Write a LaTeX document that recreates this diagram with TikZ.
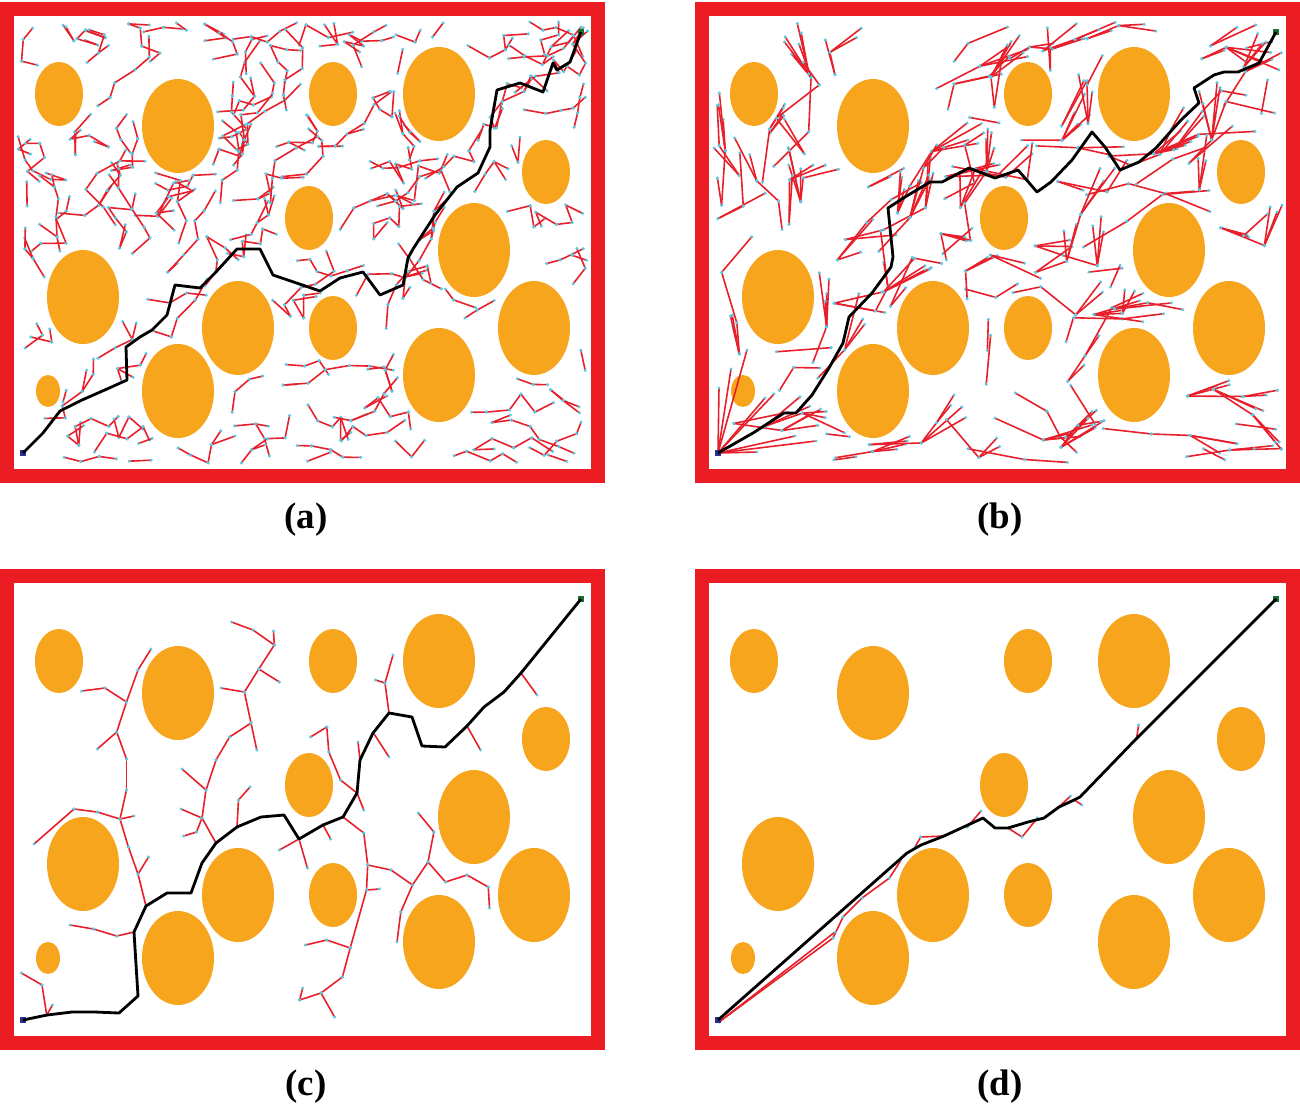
\documentclass[tikz,border=0pt]{standalone}
\usepackage{fontspec}
\setmainfont{Liberation Serif}

\definecolor{framered}{RGB}{236,28,36}
\definecolor{obstorange}{RGB}{247,165,28}
\definecolor{twigred}{RGB}{232,30,42}
\definecolor{knotcyan}{RGB}{95,200,225}
\definecolor{startblue}{RGB}{45,45,150}
\definecolor{goalgreen}{RGB}{25,110,45}

% obstacles: centre x / centre y / x radius / y radius (pixels, panel local)
\newcommand\obstacles{59/94/24/32, 178/126/36/47, 333/94/24/32, 439/94/36/47,
  546/172/24/32, 309/218/24/32, 474/250/36/47, 83/297/36/47, 238/328/36/47,
  333/328/24/32, 534/328/36/47, 178/391/36/47, 439/375/36/47, 48/391/12/16}

\newcommand\drawobstacles{%
  \foreach \ox/\oy/\rx/\ry in \obstacles {\fill[obst] (\ox,\oy) ellipse[x radius=\rx, y radius=\ry];}}

% \freeflag=1 when the point is inside the panel and off the obstacles
\newcommand\checkfree[2]{%
  \gdef\freeflag{1}%
  \pgfmathtruncatemacro\outside{(#1<18)||(#1>588)||(#2<22)||(#2>463)}%
  \ifnum\outside=1 \gdef\freeflag{0}\else
  \foreach \ox/\oy/\rx/\ry in \obstacles {%
    \pgfmathtruncatemacro\hit{((#1-\ox)/(\rx+5))^2+((#2-\oy)/(\ry+5))^2<1}%
    \ifnum\hit=1 \gdef\freeflag{0}\fi
  }\fi
}
\newcommand\checkseg[4]{%
  \checkfree{#3}{#4}%
  \ifnum\freeflag=1
    \pgfmathsetmacro\qx{(2*#1+#3)/3}\pgfmathsetmacro\qy{(2*#2+#4)/3}%
    \checkfree{\qx}{\qy}%
  \fi
  \ifnum\freeflag=1
    \pgfmathsetmacro\qx{(#1+2*#3)/3}\pgfmathsetmacro\qy{(#2+2*#4)/3}%
    \checkfree{\qx}{\qy}%
  \fi
}

% tree growth from a jittered grid, branches pointing away from the start
% #1 cols, #2 rows, #3 cell, #4 steps, #5 min length, #6 length range,
% #7 chain spread, #8 extra spokes, #9 spoke spread
\newcommand\gridtrees[9]{%
  \foreach \gx in {1,...,#1}{\foreach \gy in {1,...,#2}{%
    \pgfmathsetmacro\sx{14+(\gx-rnd)*#3}%
    \pgfmathsetmacro\sy{18+(\gy-rnd)*#3}%
    \checkfree{\sx}{\sy}%
    \ifnum\freeflag=1
      \xdef\curx{\sx}\xdef\cury{\sy}%
      \foreach \s in {1,...,#4}{%
        \pgfmathsetmacro\baseang{atan2(\cury-453,\curx-23)+(rnd-0.5)*#7}%
        \pgfmathtruncatemacro\spokes{1+#8*rnd*rnd}%
        \xdef\lastx{\curx}\xdef\lasty{\cury}%
        \foreach \k in {1,...,\spokes}{%
          \pgfmathsetmacro\ang{\baseang+(rnd-0.5)*#9}%
          \pgfmathsetmacro\len{#5+rnd*#6}%
          \pgfmathsetmacro\nx{\curx+\len*cos(\ang)}%
          \pgfmathsetmacro\ny{\cury+\len*sin(\ang)}%
          \checkseg{\curx}{\cury}{\nx}{\ny}%
          \ifnum\freeflag=1
            \draw[twig] (\curx,\cury) -- (\nx,\ny);
            \fill[treeknot] (\curx,\cury) circle[radius=1.7] (\nx,\ny) circle[radius=1.7];
            \xdef\lastx{\nx}\xdef\lasty{\ny}%
          \fi
        }%
        \xdef\curx{\lastx}\xdef\cury{\lasty}%
      }%
    \fi
  }}%
}

\tikzset{
  panelframe/.style={draw=framered, line width=0.14cm},
  obst/.style={fill=obstorange},
  twig/.style={draw=twigred, line width=0.45pt},
  treeknot/.style={fill=knotcyan},
  route/.style={draw=black, line width=0.8pt, line join=round},
  startmark/.style={fill=startblue, inner sep=0pt, minimum size=0.06cm},
  goalmark/.style={fill=goalgreen, inner sep=0pt, minimum size=0.06cm},
  panelcaption/.style={font=\fontsize{10.5}{12}\selectfont\bfseries}
}

\begin{document}
\begin{tikzpicture}[x=0.01cm, y=-0.01cm]
 \useasboundingbox (0,0) rectangle (1300,1109);
 \fill[white] (0,0) rectangle (1300,1109);

 % (a) RRT
 \begin{scope}
  \draw[panelframe] (7,9) rectangle (598,476);
  \drawobstacles
  \pgfmathsetseed{11}
  \gridtrees{16}{13}{36}{5}{12}{14}{150}{2}{80}
  \node[startmark] (startA) at (23,453) {};
  \node[goalmark] (goalA) at (581,32) {};
  \draw[route] (startA.center) -- (43,433) -- (60,411) -- (82,400) -- (107,389) -- (127,380)
   -- (126,347) -- (140,337) -- (152,330) -- (167,315) -- (175,285) -- (200,288) -- (215,273)
   -- (237,249) -- (260,249) -- (273,275) -- (320,291) -- (340,278) -- (363,272) -- (380,295)
   -- (403,285) -- (408,258) -- (413,249) -- (435,215) -- (457,187) -- (478,173) -- (490,147)
   -- (490,130) -- (497,90) -- (520,83) -- (543,92) -- (553,63) -- (557,70) -- (570,62)
   -- (goalA.center);
 \end{scope}

 % (b) RRT*
 \begin{scope}[shift={(695,0)}]
  \draw[panelframe] (7,9) rectangle (598,476);
  \drawobstacles
  \pgfmathsetseed{5}
  \gridtrees{15}{12}{40}{3}{22}{36}{120}{6}{36}
  \foreach \ex/\ey in {24/388, 36/369, 52/350, 70/398, 79/394, 100/436, 121/441, 62/452}
   {\draw[twig] (23,453) -- (\ex,\ey); \fill[treeknot] (\ex,\ey) circle[radius=1.7];}
  \node[startmark] (startB) at (23,453) {};
  \node[goalmark] (goalB) at (581,32) {};
  \draw[route] (startB.center) -- (58,433) -- (89,413) -- (101,413) -- (117,395) -- (134,368)
   -- (148,343) -- (154,317) -- (177,293) -- (196,267) -- (198,257) -- (193,208) -- (210,197)
   -- (235,182) -- (247,182) -- (274,168) -- (300,178) -- (323,170) -- (342,192) -- (356,182)
   -- (377,160) -- (397,132) -- (410,147) -- (425,170) -- (444,162) -- (461,148) -- (477,130)
   -- (486,120) -- (504,103) -- (499,88) -- (519,75) -- (529,72) -- (543,72) -- (564,63)
   -- (goalB.center);
 \end{scope}

 % (c)
 \begin{scope}[shift={(0,567)}]
  \draw[panelframe] (7,9) rectangle (598,476);
  \drawobstacles
  \foreach \ax/\ay/\bx/\by in {
   46.7/448/42/418, 42/418/21.4/406, 46.7/448/52.5/438,
   134/365/116.7/369, 116.7/369/93.4/362, 93.4/362/70/358,
   146/339/138/307, 138/307/148.6/290, 138/307/128.4/280, 128.4/280/120/252,
   120/252/134/249, 120/252/97.3/245, 97.3/245/74/242, 74/242/34/277,
   120/252/126.5/223, 126.5/223/126.5/192, 126.5/192/116.7/165, 116.7/165/97.3/182,
   116.7/165/126.5/135, 126.5/135/105/121, 105/121/81.7/124, 126.5/135/138/103, 138/103/151/82,
   216/276/202/251, 202/251/181/242, 202/251/196.5/265, 196.5/265/183.7/269,
   202/251/206/223, 206/223/182/202, 206/223/216/193, 216/193/229.6/170,
   229.6/170/251/156, 251/156/256.8/183, 251/156/244.4/125, 244.4/125/221/121,
   244.4/125/258.8/102, 258.8/102/279.4/115, 258.8/102/274.3/78, 274.3/78/273.5/64,
   274.3/78/253/63, 253/63/231.5/55, 237/260/238.5/233, 238.5/233/250/220,
   299/272/307.4/301, 299/272/279.4/283, 323/258/330.7/272,
   343/250/363.8/266, 363.8/266/367.7/298, 367.7/298/391/303, 391/303/412.5/318,
   412.5/318/428/295, 428/295/433.9/265, 433.9/265/418.3/246, 428/295/445.5/315,
   445.5/315/467/308, 467/308/488.3/320, 488.3/320/489.5/341, 412.5/318/400.8/345,
   400.8/345/397/375, 367.7/298/366.5/323, 366.5/323/379.4/322, 366.5/323/350.2/381,
   350.2/381/326.8/373, 326.8/373/305.4/378, 350.2/381/342.4/410, 342.4/410/321/426,
   321/426/299.6/433, 299.6/433/302.7/421, 321/426/334.6/450,
   357/226/363.8/243, 357/226/340.5/213, 340.5/213/328.8/185, 328.8/185/326.8/160,
   326.8/160/310.5/170, 360/193/358/175, 373.5/166/389/190, 389/146/385/116,
   385/116/375.5/113, 385/116/393/88, 467/159/480.5/183, 521/106/537/128}
   {\draw[twig] (\ax,\ay) -- (\bx,\by);
    \fill[treeknot] (\ax,\ay) circle[radius=1.7] (\bx,\by) circle[radius=1.7];}
  \node[startmark] (startC) at (23,453) {};
  \node[goalmark] (goalC) at (581,32) {};
  \draw[route] (startC.center) -- (47,448) -- (72,445) -- (95,445) -- (119,446) -- (138,429)
   -- (134,365) -- (146,339) -- (167,326) -- (191,326) -- (202,296) -- (216,276) -- (237,260)
   -- (261,250) -- (284,248) -- (299,272) -- (323,258) -- (343,250) -- (357,226) -- (360,193)
   -- (373,166) -- (389,146) -- (412,150) -- (422,179) -- (445,180) -- (467,159) -- (484,140)
   -- (504,125) -- (521,106) -- (goalC.center);
 \end{scope}

 % (d)
 \begin{scope}[shift={(695,567)}]
  \draw[panelframe] (7,9) rectangle (598,476);
  \drawobstacles
  \foreach \ax/\ay/\bx/\by in {
   24/455/138/371, 138/371/148/350, 24/455/140/365, 148/350/167/331,
   167/331/194.5/311, 194.5/311/206/293, 220/280/225.7/270, 225.7/270/249/269,
   272.4/260/286/244, 313/261/327/270, 327/270/342.4/251, 363.8/240/375.5/229,
   379.4/233/387/238, 441.6/171/443.6/158}
   {\draw[twig] (\ax,\ay) -- (\bx,\by);
    \fill[treeknot] (\ax,\ay) circle[radius=1.7] (\bx,\by) circle[radius=1.7];}
  \node[startmark] (startD) at (23,453) {};
  \node[goalmark] (goalD) at (581,32) {};
  \draw[route] (startD.center) -- (212,286) -- (226,278) -- (249,269) -- (288,251) -- (300,261)
   -- (313,261) -- (333,255) -- (349,251) -- (364,240) -- (379,233) -- (385,230) -- (442,171)
   -- (goalD.center);
 \end{scope}

 \draw (306,520) node[panelcaption] (capA) {(a)};
 \draw (1000,520) node[panelcaption] (capB) {(b)};
 \draw (306,1087) node[panelcaption] (capC) {(c)};
 \draw (1000,1087) node[panelcaption] (capD) {(d)};
\end{tikzpicture}
\end{document}
